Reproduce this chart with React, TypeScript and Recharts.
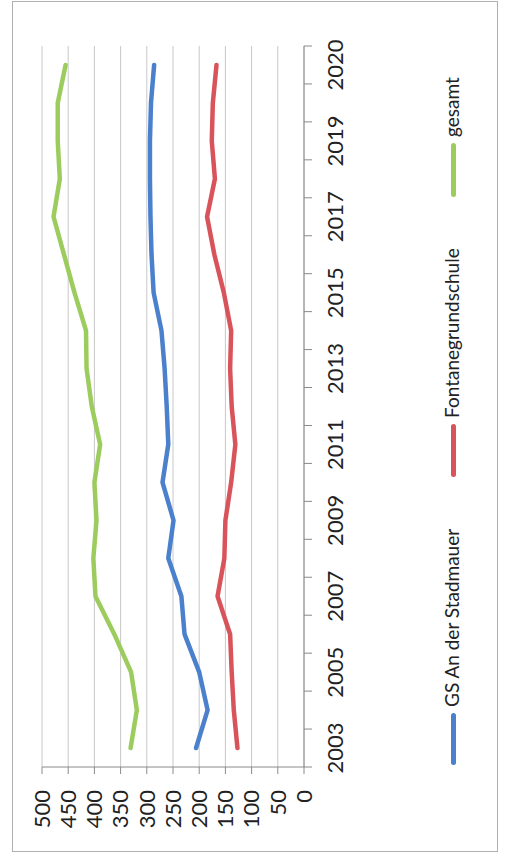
import { LineChart, Line, XAxis, YAxis, CartesianGrid } from "recharts";

// Schuljahre (der vorletzte Wert hat im Original keine Beschriftung)
const years = [
  "2003", "2004", "2005", "2006", "2007", "2008", "2009", "2010", "2011", "2012",
  "2013", "2014", "2015", "2016", "2017", "2018", "2019", "2019/20", "2020",
];

const gsAnDerStadmauer = [206, 184, 200, 228, 234, 259, 249, 270, 259, 262, 266, 272, 287, 291, 293, 294, 294, 292, 286];
const fontanegrundschule = [127, 134, 138, 141, 165, 152, 150, 139, 131, 138, 141, 139, 153, 171, 185, 170, 176, 174, 167];
const gesamt = [331, 319, 330, 362, 398, 402, 396, 400, 389, 405, 415, 416, 438, 458, 478, 466, 470, 470, 455];

const valueTicks = [0, 50, 100, 150, 200, 250, 300, 350, 400, 450, 500];

const series = [
  { key: "gs", name: "GS An der Stadmauer", color: "#4a80cc" },
  { key: "fontane", name: "Fontanegrundschule", color: "#d9545a" },
  { key: "gesamt", name: "gesamt", color: "#9dcc5e" },
];

const data = years.map((year, i) => ({
  year,
  gs: gsAnDerStadmauer[i],
  fontane: fontanegrundschule[i],
  gesamt: gesamt[i],
}));

// the chart is drawn landscape and turned a quarter turn to the left
const W = 860;
const H = 507;
const margin = { top: 42, right: 46, bottom: 163, left: 0 };
const yAxisWidth = 93;
const xAxisHeight = 40;
const axisY = H - margin.bottom - xAxisHeight;
const band = (W - margin.left - yAxisWidth - margin.right) / years.length;

const FONT = "Lato, 'Open Sans', sans-serif";
const AXIS = "#8a8a8a";

function YearTick(props: any) {
  const { payload, index } = props;
  const cx = payload.coordinate;
  const last = index === years.length - 1;
  return (
    <g>
      <line x1={cx - band / 2} x2={cx - band / 2} y1={axisY} y2={axisY + 8} stroke={AXIS} />
      {last && <line x1={cx + band / 2} x2={cx + band / 2} y1={axisY} y2={axisY + 8} stroke={AXIS} />}
      {index % 2 === 0 || last ? (
        <text x={cx} y={axisY + 39} textAnchor="middle" fontSize={22} fill="#222" fontFamily={FONT}>
          {payload.value}
        </text>
      ) : null}
    </g>
  );
}

const legendPos = [
  { line: 95, text: 153 },
  { line: 383, text: 442 },
  { line: 663, text: 723 },
];

export default function App() {
  return (
    <div style={{ position: "fixed", left: 0, top: 0, width: H, height: W, background: "#fff", overflow: "hidden" }}>
      <div
        style={{
          position: "absolute",
          left: 0,
          top: 0,
          width: W,
          height: H,
          transformOrigin: "0 0",
          transform: `translate(0px, ${W}px) rotate(-90deg)`,
        }}
      >
        <div style={{ position: "absolute", left: 8, top: 12, width: 849, height: 484, border: "1px solid #b0b0b0" }} />
        <LineChart width={W} height={H} data={data} margin={margin}>
          <CartesianGrid horizontal vertical={false} stroke="#c8c8c8" />
          <XAxis
            dataKey="year"
            height={xAxisHeight}
            interval={0}
            padding={{ left: band / 2, right: band / 2 }}
            tickLine={false}
            tick={YearTick}
            axisLine={{ stroke: AXIS }}
          />
          <YAxis
            width={yAxisWidth}
            domain={[0, 500]}
            ticks={valueTicks}
            interval={0}
            tickSize={7}
            tickMargin={16}
            tickLine={{ stroke: AXIS }}
            axisLine={{ stroke: AXIS }}
            tick={{ fontSize: 22, fill: "#222", fontFamily: FONT }}
          />
          {series.map((s) => (
            <Line
              key={s.key}
              type="linear"
              dataKey={s.key}
              name={s.name}
              stroke={s.color}
              strokeWidth={4.5}
              strokeLinecap="round"
              strokeLinejoin="round"
              dot={false}
              activeDot={false}
              isAnimationActive={false}
            />
          ))}
        </LineChart>
        {series.map((s, i) => (
          <div key={s.key}>
            <div
              style={{
                position: "absolute",
                left: legendPos[i].line,
                top: 451,
                width: legendPos[i].text - legendPos[i].line - 6,
                height: 5,
                borderRadius: 2.5,
                background: s.color,
              }}
            />
            <div
              style={{
                position: "absolute",
                left: legendPos[i].text,
                top: 441,
                fontSize: 19,
                lineHeight: "22px",
                color: "#222",
                fontFamily: FONT,
                whiteSpace: "nowrap",
              }}
            >
              {s.name}
            </div>
          </div>
        ))}
      </div>
    </div>
  );
}
